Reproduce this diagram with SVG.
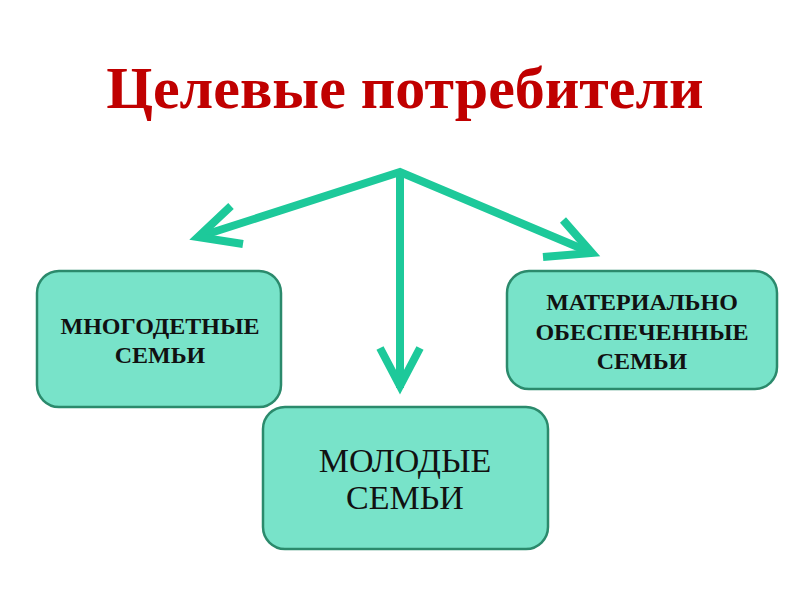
<svg xmlns="http://www.w3.org/2000/svg" width="800" height="600" viewBox="0 0 800 600">
<style>
.box{fill:#78e3c9;stroke:#2b8a6c;stroke-width:2.5}
.t{font-family:"Liberation Serif","Times New Roman",serif;fill:#111;text-anchor:middle}
.arr{fill:none;stroke:#1dc99a;stroke-width:8;stroke-linecap:butt;stroke-linejoin:miter}
</style>
<rect width="800" height="600" fill="#fff"/>
<text x="405" y="108" font-family="Liberation Serif, serif" font-weight="bold" font-size="60" fill="#c00000" text-anchor="middle">Целевые потребители</text>
<g id="connectors">
<polyline class="arr" points="198,237 400,172 592,253"/>
<line class="arr" x1="400" y1="172" x2="400" y2="388"/>
<polyline class="arr" points="231,206 198,237 243,244"/>
<polyline class="arr" points="563,220 592,253 543,257"/>
<polyline class="arr" points="380,348 400,386 420,348"/>
</g>
<g id="n1">
<rect class="box" x="37" y="271" width="244" height="136" rx="22"/>
<text class="t" font-size="24" font-weight="bold"><tspan x="160" y="334">МНОГОДЕТНЫЕ</tspan><tspan x="160" y="363">СЕМЬИ</tspan></text>
</g>
<g id="n2">
<rect class="box" x="507" y="271" width="270" height="118" rx="22"/>
<text class="t" font-size="24" font-weight="bold"><tspan x="642" y="310">МАТЕРИАЛЬНО</tspan><tspan x="642" y="340">ОБЕСПЕЧЕННЫЕ</tspan><tspan x="642" y="369">СЕМЬИ</tspan></text>
</g>
<g id="n3">
<rect class="box" x="263" y="407" width="285" height="142" rx="22"/>
<text class="t" font-size="34"><tspan x="405" y="472">МОЛОДЫЕ</tspan><tspan x="405" y="509">СЕМЬИ</tspan></text>
</g>
</svg>
